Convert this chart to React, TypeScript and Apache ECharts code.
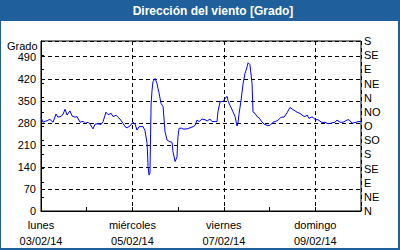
import React, { useEffect, useRef } from "react";
import * as echarts from "echarts";

const hours = [
  0, 1, 3.2, 4.7, 6.3, 7.9, 8.9, 10.5, 11.6, 12.6, 13.7, 15.2, 16.3, 17.9, 18.9, 20.5, 22.1, 23.1,
  24.7, 25.7, 27.3, 28.4, 29.9, 31.5, 32.6, 34.1, 35.2, 36.8, 37.8, 39.4, 40.4, 41.5, 43.1, 44.1,
  45.2, 46.7, 48.3, 49.4, 50.4, 51.5, 53.6, 54.6, 55.7, 56.2, 56.7, 57.2, 57.8, 58.3, 58.8, 59.9,
  60.9, 61.4, 61.9, 63.0, 64.1, 65.1, 66.2, 67.7, 68.8, 69.3, 70.4, 71.4, 71.9, 72.5, 74.0, 74.6,
  76.7, 78.2, 79.8, 80.9, 81.9, 83.0, 84.5, 86.1, 87.2, 88.7, 89.8, 91.4, 92.4, 92.9, 94.0, 95.6,
  97.1, 97.7, 98.2, 99.2, 100.8, 101.9, 102.9, 103.4, 104.0, 105.0, 106.1, 107.1, 108.2, 108.7,
  109.7, 110.8, 111.3, 112.4, 113.4, 114.5, 116.0, 117.1, 118.7, 120.2, 121.8, 122.9, 124.4,
  126.0, 127.6, 129.2, 130.7, 131.8, 133.4, 134.4, 136.0, 137.6, 138.6, 139.7, 140.7, 141.8,
  142.8, 143.9, 145.4, 147.5, 149.1, 150.7, 152.8, 154.4, 155.4, 157.0, 158.6, 160.7, 161.7,
  163.3, 164.9, 166.4, 168,
];

const direction = [
  298, 282, 287, 291, 282, 308, 298, 300, 308, 323, 305, 318, 302, 298, 300, 282, 285, 278,
  282, 276, 261, 276, 277, 275, 284, 314, 306, 310, 300, 304, 298, 292, 278, 268,
  264, 270, 282, 276, 257, 268, 268, 255, 215, 141, 114, 120, 340, 384, 411, 421,
  405, 390, 377, 342, 331, 252, 225, 220, 218, 188, 157, 172, 236, 263, 263, 260,
  261, 264, 268, 272, 289, 284, 292, 290, 286, 292, 284, 284, 284, 315, 347, 348,
  361, 364, 350, 336, 315, 300, 270, 278, 310, 350, 405, 437, 458, 471,
  465, 405, 315, 310, 300, 296, 283, 276, 272, 272, 282, 284, 288,
  298, 298, 312, 329, 324, 318, 314, 310, 302, 300, 305, 294, 298,
  298, 290, 290, 281, 282, 277, 280, 282, 289, 282, 282, 289, 290,
  279, 281, 284, 284,
];

const dayNames = ["lunes", "miércoles", "viernes", "domingo"];
const dayDates = ["03/02/14", "05/02/14", "07/02/14", "09/02/14"];
const compass = ["N", "NE", "E", "SE", "S", "SO", "O", "NO", "N", "NE", "E", "SE", "S"];

const FONT = "Liberation Sans";
const BLUE = "#1f5f9b";

export default function App() {
  const ref = useRef<HTMLDivElement>(null);
  useEffect(() => {
    if (!ref.current) return;
    const chart = echarts.init(ref.current, null, { renderer: "svg" });
    const data = hours.map((h, i) => [h, direction[i]]);
    chart.setOption({
      animation: false,
      backgroundColor: "#ffffff",
      textStyle: { fontFamily: FONT, fontSize: 11, color: "#000" },
      grid: {
        left: 41,
        right: 39,
        top: 41,
        bottom: 39,
        show: true,
        borderColor: "#000",
        borderWidth: 1,
        backgroundColor: "#ffffff",
      },
      xAxis: [
        {
          type: "value",
          min: 0,
          max: 168,
          interval: 24,
          axisLine: { show: true, lineStyle: { color: "#000", width: 1 } },
          axisTick: { show: true, inside: true, length: 4, lineStyle: { color: "#000" } },
          splitLine: { show: false },
          axisLabel: {
            show: true,
            showMinLabel: true,
            showMaxLabel: true,
            margin: 6,
            lineHeight: 16,
            fontFamily: FONT,
            fontSize: 11,
            color: "#000",
            formatter: (v: number) => {
              const idx = Math.round(v / 48);
              if (v % 48 === 0 && idx < dayNames.length) {
                return dayNames[idx] + "\n" + dayDates[idx];
              }
              return "";
            },
          },
        },
        {
          type: "value",
          min: 0,
          max: 168,
          interval: 48,
          position: "bottom",
          axisLine: { show: false },
          axisTick: { show: false },
          axisLabel: { show: false },
          splitLine: { show: true, lineStyle: { color: "#000", type: [4, 3], width: 1 } },
        },
      ],
      yAxis: [
        {
          type: "value",
          min: 0,
          max: 540,
          interval: 70,
          position: "left",
          axisLine: { show: true, lineStyle: { color: "#000", width: 1 } },
          axisTick: { show: false },
          splitLine: { show: true, lineStyle: { color: "#000", type: [4, 3], width: 1 } },
          axisLabel: {
            margin: 5,
            fontFamily: FONT,
            fontSize: 11,
            color: "#000",
            showMinLabel: true,
            formatter: (v: number) => (v % 70 === 0 ? String(v) : ""),
          },
        },
        {
          type: "value",
          min: 0,
          max: 540,
          interval: 45,
          position: "right",
          axisLine: { show: true, lineStyle: { color: "#000", width: 1 } },
          axisTick: { show: true, inside: false, length: 3, lineStyle: { color: "#000" } },
          splitLine: { show: false },
          axisLabel: {
            margin: 3,
            fontFamily: FONT,
            fontSize: 11,
            color: "#000",
            showMinLabel: true,
            showMaxLabel: true,
            formatter: (v: number) => compass[Math.round(v / 45)] ?? "",
          },
        },
      ],
      graphic: [
        { type: "rect", shape: { x: 0, y: 0, width: 400, height: 21 }, style: { fill: BLUE }, z: 10 },
        { type: "rect", shape: { x: 0, y: 0, width: 1, height: 250 }, style: { fill: BLUE }, z: 10 },
        { type: "rect", shape: { x: 398, y: 0, width: 2, height: 250 }, style: { fill: BLUE }, z: 10 },
        { type: "rect", shape: { x: 0, y: 248, width: 400, height: 2 }, style: { fill: BLUE }, z: 10 },
        {
          type: "text",
          x: 213,
          y: 11,
          z: 11,
          style: {
            text: "Dirección del viento [Grado]",
            fill: "#ffffff",
            font: `bold 12px "${FONT}"`,
            textAlign: "center",
            textVerticalAlign: "middle",
          },
        },
        {
          type: "text",
          x: 7,
          y: 46,
          z: 11,
          style: {
            text: "Grado",
            fill: "#000",
            font: `11px "${FONT}"`,
            textAlign: "left",
            textVerticalAlign: "middle",
          },
        },
      ],
      series: [
        {
          type: "line",
          xAxisIndex: 0,
          yAxisIndex: 0,
          data,
          showSymbol: false,
          symbol: "none",
          lineStyle: { color: "#0000ff", width: 1 },
          itemStyle: { color: "#0000ff" },
        },
      ],
    });
    return () => chart.dispose();
  }, []);
  return (
    <div
      ref={ref}
      style={{ position: "fixed", left: 0, top: 0, width: 400, height: 250 }}
    />
  );
}
